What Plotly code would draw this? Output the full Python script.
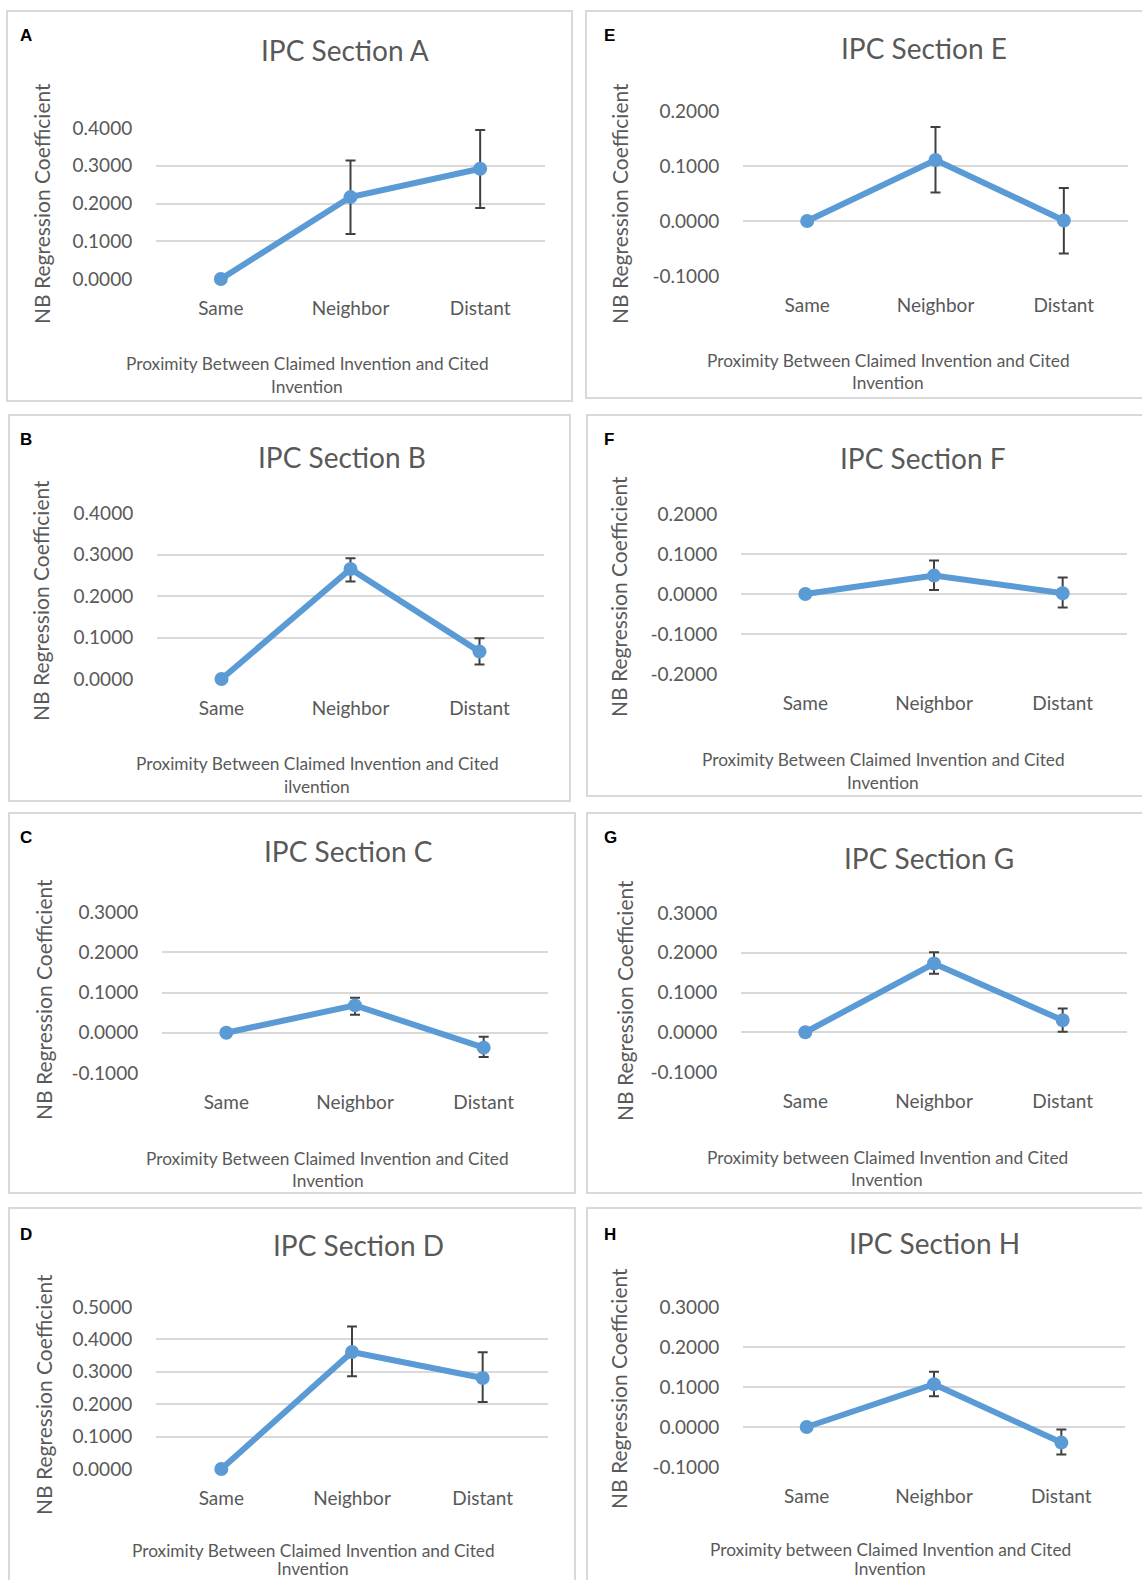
import plotly.graph_objects as go

W, H = 1142, 1580

categories = ["Same", "Neighbor", "Distant"]

panel_letters = ["A", "B", "C", "D", "E", "F", "G", "H"]
panel_titles = ["IPC Section A", "IPC Section B", "IPC Section C", "IPC Section D",
                "IPC Section E", "IPC Section F", "IPC Section G", "IPC Section H"]
x_titles_line1 = [
    "Proximity Between Claimed Invention and Cited",
    "Proximity Between Claimed Invention and Cited",
    "Proximity Between Claimed Invention and Cited",
    "Proximity Between Claimed Invention and Cited",
    "Proximity Between Claimed Invention and Cited",
    "Proximity Between Claimed Invention and Cited",
    "Proximity between Claimed Invention and Cited",
    "Proximity between Claimed Invention and Cited",
]
x_titles_line2 = ["Invention", "ilvention", "Invention", "Invention",
                  "Invention", "Invention", "Invention", "Invention"]
y_title = "NB Regression Coefficient"

# coefficient values and CI bounds (Same, Neighbor, Distant)
vals_A = [0.0, 0.217, 0.292]; hi_A = [0.0, 0.314, 0.395]; lo_A = [0.0, 0.119, 0.188]
vals_B = [0.0, 0.265, 0.066]; hi_B = [0.0, 0.291, 0.098]; lo_B = [0.0, 0.235, 0.035]
vals_C = [0.0, 0.068, -0.037]; hi_C = [0.0, 0.087, -0.010]; lo_C = [0.0, 0.045, -0.060]
vals_D = [0.0, 0.361, 0.281]; hi_D = [0.0, 0.440, 0.360]; lo_D = [0.0, 0.286, 0.207]
vals_E = [0.0, 0.111, 0.001]; hi_E = [0.0, 0.171, 0.060]; lo_E = [0.0, 0.052, -0.059]
vals_F = [0.0, 0.046, 0.002]; hi_F = [0.0, 0.084, 0.041]; lo_F = [0.0, 0.010, -0.034]
vals_G = [0.0, 0.173, 0.030]; hi_G = [0.0, 0.201, 0.060]; lo_G = [0.0, 0.147, 0.001]
vals_H = [0.0, 0.107, -0.039]; hi_H = [0.0, 0.138, -0.006]; lo_H = [0.0, 0.077, -0.069]

# y tick values per panel (axis ranges run from first to last)
ticks_A = [0.0, 0.1, 0.2, 0.3, 0.4]
ticks_B = [0.0, 0.1, 0.2, 0.3, 0.4]
ticks_C = [-0.1, 0.0, 0.1, 0.2, 0.3]
ticks_D = [0.0, 0.1, 0.2, 0.3, 0.4, 0.5]
ticks_E = [-0.1, 0.0, 0.1, 0.2]
ticks_F = [-0.2, -0.1, 0.0, 0.1, 0.2]
ticks_G = [-0.1, 0.0, 0.1, 0.2, 0.3]
ticks_H = [-0.1, 0.0, 0.1, 0.2, 0.3]

series = [(vals_A, hi_A, lo_A), (vals_B, hi_B, lo_B), (vals_C, hi_C, lo_C), (vals_D, hi_D, lo_D),
          (vals_E, hi_E, lo_E), (vals_F, hi_F, lo_F), (vals_G, hi_G, lo_G), (vals_H, hi_H, lo_H)]
ticks_all = [ticks_A, ticks_B, ticks_C, ticks_D, ticks_E, ticks_F, ticks_G, ticks_H]

# layout (pixels): plot area x0, x1, ytop, ybottom
plot_px = [
    (156, 545, 128, 279), (157, 544, 513, 679), (162, 548, 912, 1073), (156, 548, 1307, 1469),
    (743, 1128, 111, 276), (741, 1127, 514, 674), (741, 1127, 913, 1072), (743, 1125, 1307, 1467),
]
boxes_px = [
    (7, 11, 572, 401), (9, 415, 570, 801), (9, 813, 575, 1193), (9, 1208, 575, 1583),
    (586, 11, 1144, 398), (587, 415, 1144, 796), (587, 813, 1144, 1193), (587, 1208, 1144, 1583),
]
letter_px = [(18, 35), (18, 440), (18, 837), (18, 1234), (602, 35), (602, 440), (602, 837), (602, 1234)]
title_px = [(345, 50), (342, 457), (348, 851), (358, 1245), (924, 48), (923, 458), (929, 858), (934, 1243)]
ytitle_px = [(41, 204), (40, 601), (43, 1000), (43, 1395), (619, 203), (618, 597), (624, 1000), (618, 1389)]
xtitle_px = [(307, 363, 387), (317, 763, 786), (328, 1158, 1180), (313, 1550, 1568),
             (888, 360, 383), (883, 759, 782), (887, 1157, 1179), (890, 1549, 1568)]

FONT = "Lato, Carlito, Calibri, sans-serif"
GRAY = "#595959"
BLUE = "#5B9BD5"

def px_x(x):
    return x / W

def px_y(y):
    return 1 - y / H

fig = go.Figure()
layout = dict(
    width=W, height=H, autosize=False,
    margin=dict(l=0, r=0, t=0, b=0, pad=0, autoexpand=False),
    paper_bgcolor="white", plot_bgcolor="white", showlegend=False,
    font=dict(family=FONT, color=GRAY), hovermode=False,
)
shapes = []
annotations = []

for i in range(8):
    v, hi, lo = series[i]
    plus = [h - a for h, a in zip(hi, v)]
    minus = [a - l for l, a in zip(lo, v)]
    n = "" if i == 0 else str(i + 1)
    fig.add_trace(go.Scatter(
        x=categories, y=v, mode="lines+markers",
        xaxis="x" + n, yaxis="y" + n,
        line=dict(color=BLUE, width=6),
        marker=dict(color=BLUE, size=14),
        error_y=dict(type="data", array=plus, arrayminus=minus, visible=True,
                     color="#404040", thickness=2, width=5),
        cliponaxis=False,
    ))
    x0, x1, yt, yb = plot_px[i]
    layout["xaxis" + n] = dict(
        domain=[px_x(x0), px_x(x1)], anchor="y" + n, type="category", automargin=False,
        range=[-0.5, 2.5], showgrid=False, zeroline=False, showline=False,
        ticks="outside", ticklen=12, tickcolor="rgba(0,0,0,0)",
        tickfont=dict(family=FONT, size=19, color=GRAY), fixedrange=True,
    )
    tv = ticks_all[i]
    layout["yaxis" + n] = dict(
        domain=[px_y(yb), px_y(yt)], anchor="x" + n, automargin=False,
        range=[tv[0] - 1e-6, tv[-1] + 1e-6], tickmode="array",
        tickvals=tv, ticktext=["%.4f" % t for t in tv],
        showgrid=True, gridcolor="#D9D9D9", gridwidth=2, zeroline=False, showline=False,
        ticks="outside", ticklen=19, tickcolor="rgba(0,0,0,0)",
        tickfont=dict(family=FONT, size=19, color=GRAY), fixedrange=True,
    )
    bx0, by0, bx1, by1 = boxes_px[i]
    shapes.append(dict(type="rect", xref="paper", yref="paper",
                       x0=px_x(bx0), x1=px_x(bx1), y0=px_y(by1), y1=px_y(by0),
                       line=dict(color="#D9D9D9", width=2), layer="below"))
    lx, ly = letter_px[i]
    annotations.append(dict(text="<b>" + panel_letters[i] + "</b>", x=px_x(lx), y=px_y(ly),
                            xref="paper", yref="paper", xanchor="left", yanchor="middle",
                            showarrow=False,
                            font=dict(family="Liberation Sans, Arial, sans-serif", size=17, color="black")))
    tx, ty = title_px[i]
    annotations.append(dict(text=panel_titles[i], x=px_x(tx), y=px_y(ty), xref="paper", yref="paper",
                            xanchor="center", yanchor="middle", showarrow=False,
                            font=dict(family=FONT, size=28, color=GRAY)))
    yx, yy = ytitle_px[i]
    annotations.append(dict(text=y_title, x=px_x(yx), y=px_y(yy), xref="paper", yref="paper",
                            xanchor="center", yanchor="middle", textangle=-90, showarrow=False,
                            font=dict(family=FONT, size=21, color=GRAY)))
    xx, xy1, xy2 = xtitle_px[i]
    for txt, yy2 in ((x_titles_line1[i], xy1), (x_titles_line2[i], xy2)):
        annotations.append(dict(text=txt, x=px_x(xx), y=px_y(yy2), xref="paper", yref="paper",
                                xanchor="center", yanchor="middle", showarrow=False,
                                font=dict(family=FONT, size=17.3, color=GRAY)))

layout["shapes"] = shapes
layout["annotations"] = annotations
fig.update_layout(**layout)

post_js = (
    "document.documentElement.style.margin='0';"
    "document.documentElement.style.overflow='hidden';"
    "document.body.style.margin='0';"
    "document.body.style.overflow='hidden';"
    "var gd=document.getElementById('{plot_id}');"
    "gd.style.position='absolute';gd.style.left='0px';gd.style.top='0px';"
)
fig.write_html("out.html", post_script=post_js,
               config={"responsive": False, "displayModeBar": False, "staticPlot": True})
